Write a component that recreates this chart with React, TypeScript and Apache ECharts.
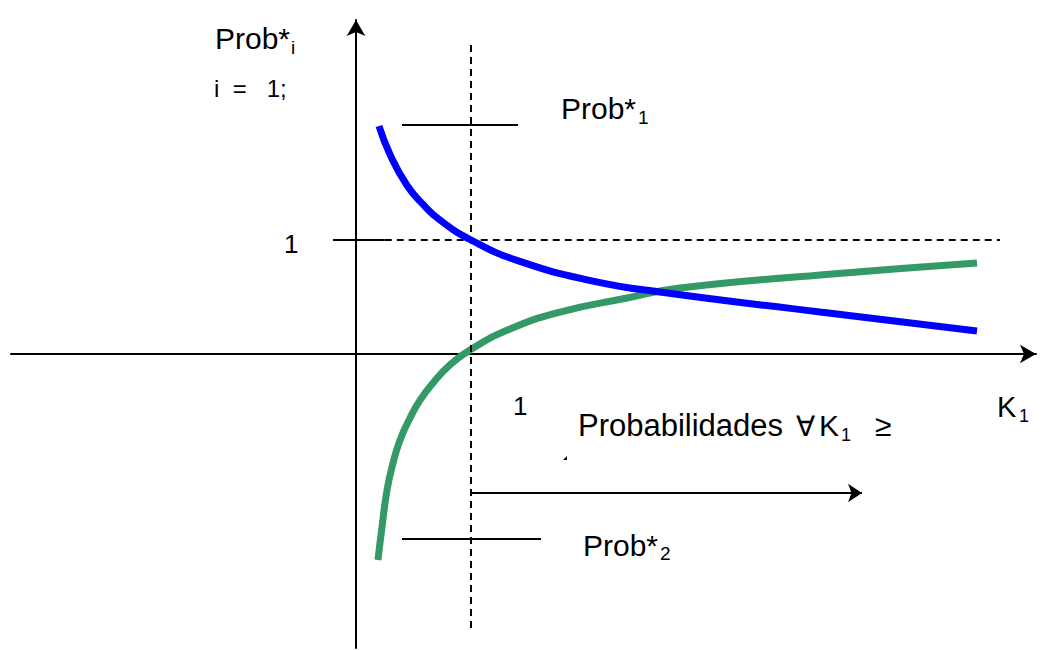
import React, { useEffect, useRef } from "react";
import * as echarts from "echarts";

// Curve Prob*1 (blue), x = K1, y = probability
const blueX = [0.2, 0.296, 0.443, 0.583, 0.73, 1.0, 1.426, 2.061, 2.643, 4.035, 5.4];
const blueY = [2.0, 1.75, 1.48, 1.312, 1.175, 1.0, 0.812, 0.64, 0.544, 0.368, 0.202];
// Curve Prob*2 (green)
const greenX = [0.191, 0.226, 0.27, 0.322, 0.383, 0.47, 0.557, 0.67, 0.817, 0.991, 1.339, 1.774, 2.357, 2.817, 4.035, 5.4];
const greenY = [-1.807, -1.518, -1.193, -0.956, -0.754, -0.561, -0.404, -0.254, -0.096, 0.035, 0.219, 0.368, 0.491, 0.579, 0.693, 0.798];

// Guide segments [x1, y1, x2, y2]
const guideK1 = [1, 2.711, 1, -2.439]; // dashed vertical at K1 = 1
const guideOneDashed = [0.25, 1, 5.6, 1]; // dashed horizontal at 1
const guideOneTick = [-0.2, 1, 0.25, 1]; // solid tick at 1
const guideProb1 = [0.4, 2.009, 1.409, 2.009];
const guideProb2 = [0.4, -1.623, 1.609, -1.623];
const guideArrow = [1.0, -1.219, 4.4, -1.219];

const xMin = -3.0;
const xMax = 5.913;
const yMin = -2.579;
const yMax = 2.93;

const FONT = "'Liberation Sans', Arial, sans-serif";

function seg(s: number[]) {
  return [
    [s[0], s[1]],
    [s[2], s[3]],
  ];
}

function txt(text: string, x: number, baseline: number, fontSize: number) {
  return {
    type: "text",
    x,
    y: baseline - 0.3465 * fontSize,
    style: {
      text,
      fontSize,
      fontFamily: FONT,
      fill: "#000",
      align: "left",
      verticalAlign: "middle",
    },
    silent: true,
  };
}

export default function App() {
  const ref = useRef<HTMLDivElement>(null);
  useEffect(() => {
    if (!ref.current) return;
    const chart = echarts.init(ref.current, null, { renderer: "svg" });
    const axisCommon = {
      type: "value",
      axisTick: { show: false },
      axisLabel: { show: false },
      splitLine: { show: false },
    };
    const guide = (s: number[], dashed: boolean, z = 3) => ({
      type: "line",
      data: seg(s),
      symbol: "none",
      silent: true,
      z,
      lineStyle: {
        color: "#000",
        width: 2,
        type: dashed ? [7, 5] : "solid",
      },
    });
    chart.setOption({
      animation: false,
      backgroundColor: "#fff",
      grid: { left: 11, right: 8, top: 20, bottom: 2 },
      xAxis: {
        ...axisCommon,
        min: xMin,
        max: xMax,
        axisLine: {
          onZero: true,
          symbol: ["none", "arrow"],
          symbolSize: [14, 16],
          lineStyle: { color: "#000", width: 2 },
        },
      },
      yAxis: {
        ...axisCommon,
        min: yMin,
        max: yMax,
        axisLine: {
          onZero: true,
          symbol: ["none", "arrow"],
          symbolSize: [14, 16],
          lineStyle: { color: "#000", width: 2 },
        },
      },
      series: [
        {
          type: "line",
          name: "Prob*2",
          data: greenX.map((x, i) => [x, greenY[i]]),
          smooth: 0.5,
          symbol: "none",
          z: 2,
          lineStyle: { color: "#339966", width: 7, cap: "butt" },
        },
        guide(guideK1, true),
        guide(guideOneDashed, true),
        guide(guideOneTick, false),
        guide(guideProb1, false),
        guide(guideProb2, false),
        {
          type: "line",
          data: [],
          symbol: "none",
          silent: true,
          markLine: {
            silent: true,
            symbol: ["none", "arrow"],
            symbolSize: [14, 14],
            label: { show: false },
            lineStyle: { color: "#000", width: 2, type: "solid" },
            data: [
              [
                { coord: [guideArrow[0], guideArrow[1]] },
                { coord: [guideArrow[2], guideArrow[3]] },
              ],
            ],
          },
        },
        {
          type: "line",
          name: "Prob*1",
          data: blueX.map((x, i) => [x, blueY[i]]),
          smooth: 0.5,
          symbol: "none",
          z: 4,
          lineStyle: { color: "#0000ff", width: 7, cap: "butt" },
        },
      ],
      graphic: [
        txt("Prob*", 215, 49, 30),
        txt("i", 291, 54, 19),
        txt("i  =   1;", 214, 97, 24),
        txt("Prob*", 561, 119, 30),
        txt("1", 638, 124, 19),
        txt("1", 284, 253, 26),
        txt("1", 513, 415, 26),
        txt("K", 997, 417, 29),
        txt("1", 1019, 422, 18),
        txt("Probabilidades", 578, 436, 31),
        txt("\u2200", 796, 436, 28),
        txt("K", 819, 436, 30),
        txt("1", 841, 441, 18),
        txt("\u2265", 875, 436, 30),
        txt("Prob*", 583, 556, 30),
        txt("2", 660, 560, 19),
        {
          type: "polygon",
          silent: true,
          shape: { points: [[563, 460], [567, 456], [567, 460]] },
          style: { fill: "#000" },
        },
      ],
    });
    return () => chart.dispose();
  }, []);
  return (
    <div
      ref={ref}
      style={{ position: "absolute", left: 0, top: 0, width: 1044, height: 650, background: "#fff" }}
    />
  );
}
